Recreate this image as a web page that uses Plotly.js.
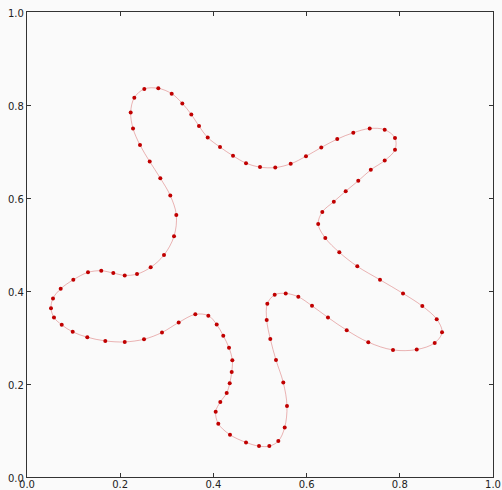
<!DOCTYPE html>
<html>
<head>
<meta charset="utf-8">
<script src="https://cdn.plot.ly/plotly-3.0.1.min.js"></script>
<style>html,body{margin:0;padding:0;background:#fafafa;}</style>
</head>
<body>
<div id="chart" style="width:502px;height:490px;"></div>
<script>
// Closed curve sample points (data coordinates)
var xs = [0.2303,0.2517,0.2818,0.3105,0.3333,0.3526,0.3691,0.3878,0.4142,0.4421,
          0.4700,0.5000,0.5328,0.5659,0.5987,0.6315,0.6657,0.7002,0.7354,0.7676,
          0.7897,0.7897,0.7676,0.7378,0.7109,0.6839,0.6584,0.6337,0.6249,0.6401,
          0.6702,0.7088,0.7575,0.8069,0.8483,0.8792,0.8906,0.8749,0.8363,0.7854,
          0.7324,0.6861,0.6459,0.6116,0.5822,0.5552,0.5315,0.5157,0.5144,0.5221,
          0.5343,0.5500,0.5579,0.5530,0.5393,0.5200,0.4979,0.4700,0.4356,0.4105,
          0.4049,0.4148,0.4285,0.4350,0.4393,0.4406,0.4335,0.4212,0.4071,0.3891,
          0.3612,0.3255,0.2897,0.2511,0.2097,0.1680,0.1294,0.0981,0.0745,0.0579,
          0.0515,0.0558,0.0723,0.0994,0.1309,0.1594,0.1852,0.2097,0.2361,0.2654,
          0.2940,0.3155,0.3204,0.3075,0.2861,0.2633,0.2425,0.2275,0.2225];
var ys = [0.8157,0.8345,0.8358,0.8244,0.8034,0.7797,0.7547,0.7302,0.7095,0.6907,
          0.6750,0.6664,0.6655,0.6735,0.6897,0.7086,0.7267,0.7403,0.7494,0.7468,
          0.7289,0.7037,0.6806,0.6606,0.6369,0.6147,0.5922,0.5700,0.5442,0.5140,
          0.4832,0.4530,0.4241,0.3948,0.3675,0.3394,0.3114,0.2884,0.2741,0.2733,
          0.2899,0.3157,0.3431,0.3681,0.3875,0.3948,0.3918,0.3724,0.3379,0.2970,
          0.2517,0.2030,0.1526,0.1067,0.0772,0.0664,0.0664,0.0744,0.0909,0.1147,
          0.1405,0.1612,0.1806,0.2015,0.2259,0.2511,0.2780,0.3039,0.3280,0.3470,
          0.3498,0.3323,0.3108,0.2963,0.2905,0.2927,0.3006,0.3121,0.3272,0.3431,
          0.3631,0.3841,0.4047,0.4241,0.4401,0.4435,0.4386,0.4336,0.4364,0.4509,
          0.4774,0.5177,0.5636,0.6052,0.6427,0.6784,0.7138,0.7496,0.7841];
var tickVals = [0.0,0.2,0.4,0.6,0.8,1.0];
var tickText = ['0.0','0.2','0.4','0.6','0.8','1.0'];

// Close the loop starting on a fairly straight stretch so the spline join is smooth
var start = 26;
var lx = [], ly = [];
for (var i = 0; i <= xs.length; i++) {
  var k = (start + i) % xs.length;
  lx.push(xs[k]); ly.push(ys[k]);
}

var traces = [
  {x: lx, y: ly, mode: 'lines', type: 'scatter',
   line: {color: 'rgba(205,60,60,0.38)', width: 1, shape: 'spline', smoothing: 1},
   hoverinfo: 'skip'},
  {x: xs, y: ys, mode: 'markers', type: 'scatter',
   marker: {color: '#c00000', size: 4, line: {width: 0}}}
];

var axisCommon = {
  range: [0, 1], tickvals: tickVals, ticktext: tickText,
  showgrid: false, zeroline: false,
  showline: true, linecolor: '#333', linewidth: 1.2, mirror: 'ticks',
  ticks: 'inside', ticklen: 4, tickcolor: '#333', tickwidth: 1,
  tickfont: {family: 'DejaVu Sans', size: 10, color: '#222'}
};

var layout = {
  width: 502, height: 490,
  margin: {l: 27, r: 9, t: 12, b: 13, pad: 0},
  paper_bgcolor: '#fafafa', plot_bgcolor: '#fafafa',
  showlegend: false,
  xaxis: Object.assign({}, axisCommon, {ticklabelstandoff: -2}),
  yaxis: Object.assign({}, axisCommon, {ticklabelstandoff: 0, ticklabelshift: 1})
};

Plotly.newPlot('chart', traces, layout, {staticPlot: true, displayModeBar: false});
</script>
</body>
</html>
